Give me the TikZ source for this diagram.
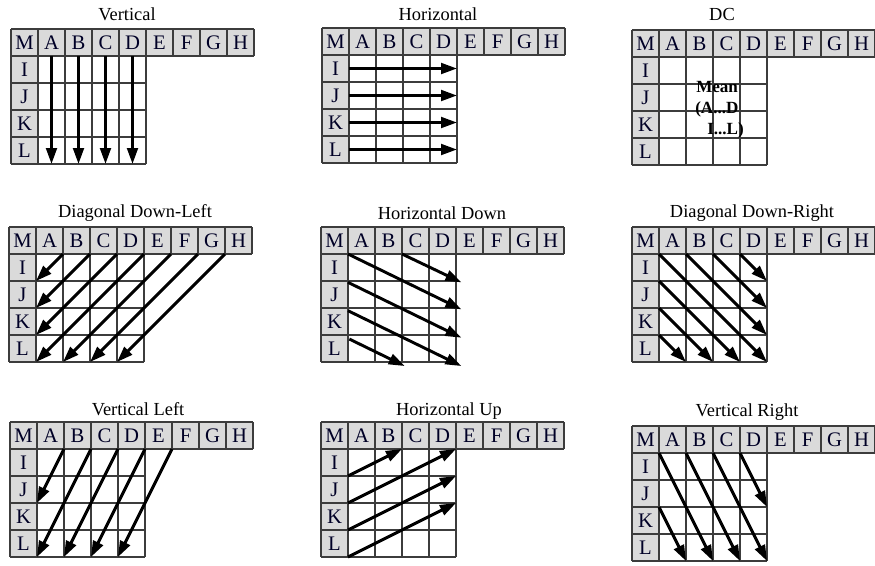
\documentclass[tikz,border=0pt]{standalone}
\usepackage{fontspec}
\setmainfont{Liberation Serif}
\usetikzlibrary{arrows.meta}
\definecolor{hdrgray}{HTML}{DADADA}
\definecolor{linegray}{HTML}{3C3C3C}
\tikzset{
  hdr/.style={fill=hdrgray},
  gl/.style={draw=linegray,line width=0.85pt},
  lbl/.style={anchor=base,inner sep=0pt,font=\fontsize{15.5}{18}\selectfont,text=black!85!blue},
  ttl/.style={anchor=base,inner sep=0pt,font=\fontsize{13.8}{16}\selectfont},
  dctext/.style={anchor=base west,inner sep=0pt,font=\bfseries\fontsize{12.8}{15}\selectfont},
  arr/.style={line width=2.2pt,-{Triangle[length=12pt,width=8pt]}},
}
\newcommand\gridpanel[1]{%
  \fill[hdr] (0,0) rectangle (9,1);
  \fill[hdr] (0,1) rectangle (1,5);
  \fill[white] (1,1) rectangle (5,5);
  \foreach \c in {0,...,9} \draw[gl] (\c,0) -- (\c,1);
  \draw[gl] (0,0) -- (9,0) (0,1) -- (9,1);
  \foreach \r in {2,...,5} \draw[gl] (0,\r) -- (5,\r);
  \foreach \c in {0,...,5} \draw[gl] (\c,1) -- (\c,5);
  \foreach \l [count=\i from 0] in {M,A,B,C,D,E,F,G,H}
    \node[lbl] (#1-\l) at (\i+0.5,0.76) {\l};
  \foreach \l [count=\i from 1] in {I,J,K,L}
    \node[lbl] (#1-\l) at (0.5,\i+0.76) {\l};
}
\begin{document}
\begin{tikzpicture}[x=0.75pt,y=-0.75pt]
\useasboundingbox (0,0) rectangle (875,565);
\fill[white] (0,0) rectangle (875,565);

% titles
\node[ttl] (t1) at (127,20.7) {Vertical};
\node[ttl] (t2) at (438,20.3) {Horizontal};
\node[ttl] (t3) at (722,20.3) {DC};
\node[ttl] (t4) at (135,217.5) {Diagonal Down-Left};
\node[ttl] (t5) at (442,219.3) {Horizontal Down};
\node[ttl] (t6) at (752,217.5) {Diagonal Down-Right};
\node[ttl] (t7) at (138,415) {Vertical Left};
\node[ttl] (t8) at (449,415) {Horizontal Up};
\node[ttl] (t9) at (747,416) {Vertical Right};

% Vertical
\begin{scope}[shift={(11,29)},x=20.25pt,y=-20.25pt]
  \gridpanel{pa}
  \foreach \c in {1.5,2.5,3.5,4.5} \draw[arr] (\c,1) -- (\c,5);
\end{scope}

% Horizontal
\begin{scope}[shift={(322,28)},x=20.25pt,y=-20.25pt]
  \gridpanel{pb}
  \foreach \r in {1.5,2.5,3.5,4.5} \draw[arr] (1,\r) -- (5,\r);
\end{scope}

% DC
\begin{scope}[shift={(632,30)},x=20.25pt,y=-20.25pt]
  \gridpanel{pc}
\end{scope}
\node[dctext] (dc1) at (696,92) {Mean};
\node[dctext] (dc2) at (695,113) {(A...D};
\node[dctext] (dc3) at (707,134) {I...L)};

% Diagonal Down-Left
\begin{scope}[shift={(9,227)},x=20.25pt,y=-20.25pt]
  \gridpanel{pd}
  \draw[arr] (2,1) -- (1,2);
  \draw[arr] (3,1) -- (1,3);
  \draw[arr] (4,1) -- (1,4);
  \draw[arr] (5,1) -- (1,5);
  \draw[arr] (6,1) -- (2,5);
  \draw[arr] (7,1) -- (3,5);
  \draw[arr] (8,1) -- (4,5);
\end{scope}

% Horizontal Down
\begin{scope}[shift={(321,227)},x=20.25pt,y=-20.25pt]
  \gridpanel{pe}
  \draw[arr] (1,1) -- (5.2,3.05);
  \draw[arr] (3,1) -- (5.2,2.05);
  \draw[arr] (1,2.05) -- (5.2,4.1);
  \draw[arr] (1,3.1) -- (5.2,5.15);
  \draw[arr] (1.05,4.15) -- (3.1,5.15);
\end{scope}

% Diagonal Down-Right
\begin{scope}[shift={(632,227)},x=20.25pt,y=-20.25pt]
  \gridpanel{pf}
  \draw[arr] (1,1) -- (5,5);
  \draw[arr] (2,1) -- (5,4);
  \draw[arr] (3,1) -- (5,3);
  \draw[arr] (4,1) -- (5,2);
  \draw[arr] (1,2) -- (4,5);
  \draw[arr] (1,3) -- (3,5);
  \draw[arr] (1,4) -- (2,5);
\end{scope}

% Vertical Left
\begin{scope}[shift={(10,422)},x=20.25pt,y=-20.25pt]
  \gridpanel{pg}
  \draw[arr] (2,1) -- (1,3);
  \draw[arr] (3,1) -- (1,5);
  \draw[arr] (4,1) -- (2,5);
  \draw[arr] (5,1) -- (3,5);
  \draw[arr] (6,1) -- (4,5);
\end{scope}

% Horizontal Up
\begin{scope}[shift={(321,422)},x=20.25pt,y=-20.25pt]
  \gridpanel{ph}
  \draw[arr] (1,2) -- (3,1);
  \draw[arr] (1,3) -- (5,1);
  \draw[arr] (1,4) -- (5,2);
  \draw[arr] (1,5) -- (5,3);
\end{scope}

% Vertical Right
\begin{scope}[shift={(632,426)},x=20.25pt,y=-20.25pt]
  \gridpanel{pi}
  \draw[arr] (1,1) -- (3,5);
  \draw[arr] (2,1) -- (4,5);
  \draw[arr] (3,1) -- (5,5);
  \draw[arr] (4,1) -- (5,3);
  \draw[arr] (1,3) -- (2,5);
\end{scope}
\end{tikzpicture}
\end{document}
